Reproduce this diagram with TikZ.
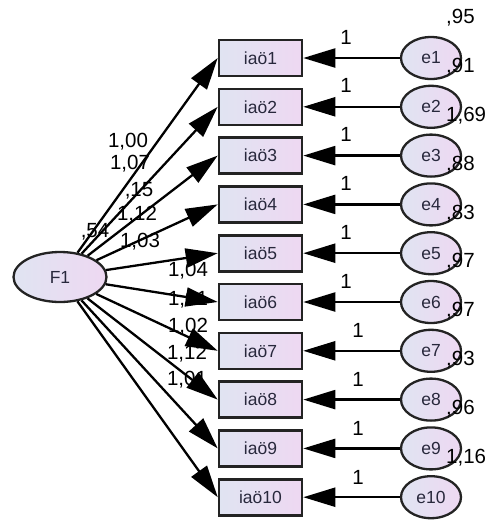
\documentclass[tikz,border=0pt]{standalone}
\usepackage{fontspec}
\setmainfont{Liberation Sans}
\usepackage{xcolor}
\usetikzlibrary{shapes.geometric,arrows.meta}
\definecolor{semleft}{RGB}{224,228,242}
\definecolor{semright}{RGB}{238,216,242}
\definecolor{semstroke}{RGB}{35,35,35}
\definecolor{semtext}{RGB}{40,40,60}

\begin{document}
\begin{tikzpicture}[
    x=1pt, y=-1pt,
    obs/.style={draw=semstroke, rectangle, minimum width=83pt, minimum height=36pt, inner sep=0pt, line width=2.6pt, left color=semleft, right color=semright, text=semtext, font=\fontsize{17.5}{17.5}\selectfont},
    latent/.style={draw=semstroke, ellipse, minimum width=93pt, minimum height=50pt, inner sep=0pt, line width=2.3pt, left color=semleft, right color=semright, text=semtext, font=\fontsize{17.5}{17.5}\selectfont},
    err/.style={draw=semstroke, ellipse, minimum width=60pt, minimum height=42pt, inner sep=0pt, line width=2.3pt, left color=semleft, right color=semright, text=semtext, font=\fontsize{17.5}{17.5}\selectfont},
    param/.style={inner sep=0pt, font=\fontsize{20.5}{20.5}\selectfont},
    path/.style={-{Triangle[length=32pt,width=19pt]}, black, line width=2.3pt},
]
  \useasboundingbox (0,0) rectangle (488,520);
  \node[latent] (f1) at (60,277) {F1};
  \node[obs] (x1) at (260.5,58.0) {iaö1};
  \node[obs] (x2) at (260.5,106.8) {iaö2};
  \node[obs] (x3) at (260.5,155.6) {iaö3};
  \node[obs] (x4) at (260.5,204.4) {iaö4};
  \node[obs] (x5) at (260.5,253.2) {iaö5};
  \node[obs] (x6) at (260.5,302.0) {iaö6};
  \node[obs] (x7) at (260.5,350.8) {iaö7};
  \node[obs] (x8) at (260.5,399.6) {iaö8};
  \node[obs] (x9) at (260.5,448.4) {iaö9};
  \node[obs] (x10) at (260.5,497.2) {iaö10};
  \node[err] (e1) at (431,58.0) {e1};
  \node[err] (e2) at (431,106.8) {e2};
  \node[err] (e3) at (431,155.6) {e3};
  \node[err] (e4) at (431,204.4) {e4};
  \node[err] (e5) at (431,253.2) {e5};
  \node[err] (e6) at (431,302.0) {e6};
  \node[err] (e7) at (431,350.8) {e7};
  \node[err] (e8) at (431,399.6) {e8};
  \node[err] (e9) at (431,448.4) {e9};
  \node[err] (e10) at (431,497.2) {e10};
  \draw[path] (f1) -- (x1.west);
  \draw[path] (f1) -- (x2.west);
  \draw[path] (f1) -- (x3.west);
  \draw[path] (f1) -- (x4.west);
  \draw[path] (f1) -- (x5.west);
  \draw[path] (f1) -- (x6.west);
  \draw[path] (f1) -- (x7.west);
  \draw[path] (f1) -- (x8.west);
  \draw[path] (f1) -- (x9.west);
  \draw[path] (f1) -- (x10.west);
  \draw[path] (e1) -- (x1);
  \draw[path] (e2) -- (x2);
  \draw[path] (e3) -- (x3);
  \draw[path] (e4) -- (x4);
  \draw[path] (e5) -- (x5);
  \draw[path] (e6) -- (x6);
  \draw[path] (e7) -- (x7);
  \draw[path] (e8) -- (x8);
  \draw[path] (e9) -- (x9);
  \draw[path] (e10) -- (x10);
  % fixed loadings of the errors
  \node[param] (w1) at (346,37) {1};
  \node[param] (w2) at (346,85.8) {1};
  \node[param] (w3) at (346,134.6) {1};
  \node[param] (w4) at (346,183.4) {1};
  \node[param] (w5) at (346,232.2) {1};
  \node[param] (w6) at (346,281) {1};
  \node[param] (w7) at (358,330.8) {1};
  \node[param] (w8) at (358,379.6) {1};
  \node[param] (w9) at (358,428.4) {1};
  \node[param] (w10) at (358,477.2) {1};
  % variances
  \node[param, anchor=west] (v1) at (446,18.0) {,95};
  \node[param, anchor=west] (v2) at (446,66.8) {,91};
  \node[param, anchor=west] (v3) at (446,115.6) {1,69};
  \node[param, anchor=west] (v4) at (446,164.4) {,88};
  \node[param, anchor=west] (v5) at (446,213.2) {,83};
  \node[param, anchor=west] (v6) at (446,262.0) {,97};
  \node[param, anchor=west] (v7) at (446,310.8) {,97};
  \node[param, anchor=west] (v8) at (446,359.6) {,93};
  \node[param, anchor=west] (v9) at (446,408.4) {,96};
  \node[param, anchor=west] (v10) at (446,457.2) {1,16};
  \node[param] (vf) at (95,232) {,54};
  % factor loadings
  \node[param] (l1) at (128,142) {1,00};
  \node[param] (l2) at (130,164) {1,07};
  \node[param] (l3) at (139,191) {,15};
  \node[param] (l4) at (137,215) {1,12};
  \node[param] (l5) at (140,242) {1,03};
  \node[param] (l6) at (188,271) {1,04};
  \node[param] (l7) at (188,300) {1,01};
  \node[param] (l8) at (188,327) {1,02};
  \node[param] (l9) at (187,354) {1,12};
  \node[param] (l10) at (187,380) {1,01};
\end{tikzpicture}
\end{document}
